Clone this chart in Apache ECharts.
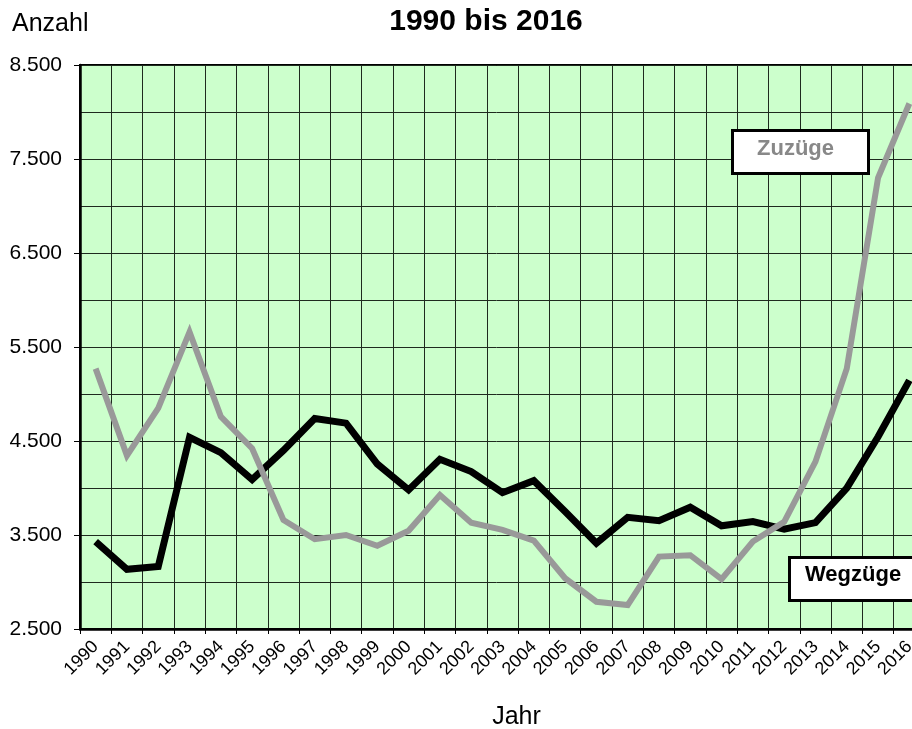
<!DOCTYPE html>
<html>
<head>
<meta charset="utf-8">
<script src="https://cdn.jsdelivr.net/npm/echarts@6/dist/echarts.min.js"></script>
<style>
html,body{margin:0;padding:0;background:#fff;}
#chart{width:912px;height:729px;}
</style>
</head>
<body>
<div id="chart"></div>
<script>
const years = ['1990','1991','1992','1993','1994','1995','1996','1997','1998','1999','2000','2001','2002','2003','2004','2005','2006','2007','2008','2009','2010','2011','2012','2013','2014','2015','2016'];
const zuzuege = [5270,4345,4850,5660,4760,4420,3660,3455,3500,3385,3545,3925,3630,3555,3440,3040,2790,2755,3270,3285,3030,3430,3640,4280,5270,7300,8090];
const wegzuege = [3430,3135,3165,4540,4376,4090,4400,4740,4690,4255,3980,4305,4175,3950,4078,3750,3412,3688,3652,3795,3598,3642,3562,3632,3998,4545,5145];
const yTicks = [2500,3500,4500,5500,6500,7500,8500];

const chart = echarts.init(document.getElementById('chart'), null, {renderer:'canvas'});
const FONT = '"Liberation Sans", Arial, sans-serif';
chart.setOption({
  animation:false,
  backgroundColor:'#ffffff',
  title:{text:'1990 bis 2016', left:481, top:2, textAlign:'center',
    textStyle:{fontFamily:FONT, fontSize:30, fontWeight:'bold', color:'#000'}},
  grid:{left:80, top:65, right:-13, bottom:100, show:true, backgroundColor:'#ccffcc',
    borderColor:'#000', borderWidth:2, containLabel:false, outerBoundsMode:'none'},
  xAxis:{type:'category', data:years, boundaryGap:true,
    name:'Jahr', nameLocation:'middle', nameGap:76,
    nameTextStyle:{fontFamily:FONT, fontSize:25, color:'#000', padding:[0,0,0,28]},
    axisLine:{show:true, lineStyle:{color:'#000', width:2.5}},
    axisTick:{show:true, length:5, alignWithLabel:false, lineStyle:{color:'#000', width:1}},
    axisLabel:{rotate:45, fontFamily:FONT, fontSize:18, color:'#000', margin:15, interval:0},
    splitLine:{show:true, interval:0, lineStyle:{color:'#1e2a1e', width:1}}
  },
  yAxis:{type:'value', min:yTicks[0], max:yTicks[yTicks.length-1], interval:1000,
    name:'Anzahl', nameLocation:'end', nameGap:0,
    nameTextStyle:{fontFamily:FONT, fontSize:25, color:'#000', align:'left', verticalAlign:'bottom', padding:[0,0,28,-68]},
    axisLine:{show:true, lineStyle:{color:'#000', width:2.5}},
    axisTick:{show:true, length:6, lineStyle:{color:'#000', width:1}},
    axisLabel:{fontFamily:FONT, fontSize:21, color:'#000', margin:18,
      formatter:function(v){ return String(v).replace(/\B(?=(\d{3})+(?!\d))/g,'.'); }},
    splitLine:{show:true, lineStyle:{color:'#1e2a1e', width:1}},
    minorTick:{show:false, splitNumber:2},
    minorSplitLine:{show:true, lineStyle:{color:'#1e2a1e', width:1}}
  },
  series:[
    {name:'Wegzüge', type:'line', data:wegzuege, symbol:'none', z:3,
      lineStyle:{color:'#000000', width:7, join:'miter'}},
    {name:'Zuzüge', type:'line', data:zuzuege, symbol:'none', z:4,
      lineStyle:{color:'#999999', width:6, join:'miter'}}
  ],
  graphic:[
    {type:'rect', left:731, top:129, z:100, shape:{width:136, height:43},
      style:{fill:'#fff', stroke:'#000', lineWidth:3}},
    {type:'text', left:757, top:138, z:101,
      style:{text:'Zuzüge', fill:'#888888', font:'bold 22px "Liberation Sans", Arial, sans-serif'}},
    {type:'rect', left:788, top:556, z:100, shape:{width:140, height:43},
      style:{fill:'#fff', stroke:'#000', lineWidth:3}},
    {type:'text', left:805, top:564, z:101,
      style:{text:'Wegzüge', fill:'#000', font:'bold 22px "Liberation Sans", Arial, sans-serif'}}
  ]
});
</script>
</body>
</html>
